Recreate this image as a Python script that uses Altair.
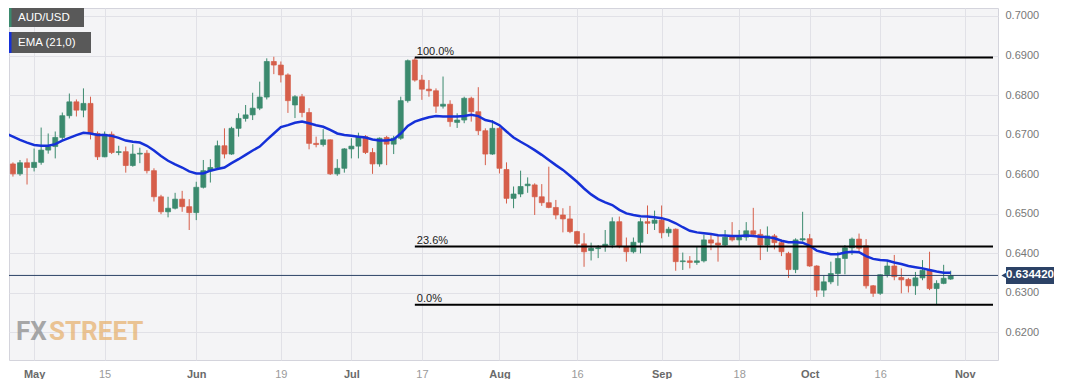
import altair as alt
import pandas as pd

# ---------------- data ----------------
# trading-day index: 0 = 1 May 2023 (weekdays only)
idx = list(range(-4, 131))

opens = [0.6695,0.6626,0.6601,0.6629,0.6617,0.6630,0.6661,0.6670,0.6693,0.6748,
         0.6783,0.6762,0.6779,0.6703,0.6644,0.6701,0.6655,0.6657,0.6622,0.6651,
         0.6653,0.6609,0.6543,0.6505,0.6514,0.6537,0.6518,0.6503,0.6567,0.6609,
         0.6617,0.6672,0.6651,0.6716,0.6741,0.6750,0.6767,0.6795,0.6885,0.6876,
         0.6851,0.6775,0.6796,0.6756,0.6678,0.6675,0.6687,0.6601,0.6615,0.6664,
         0.6671,0.6695,0.6655,0.6626,0.6693,0.6676,0.6691,0.6786,0.6889,0.6838,
         0.6815,0.6811,0.6772,0.6777,0.6731,0.6737,0.6792,0.6758,0.6710,0.6651,
         0.6716,0.6612,0.6539,0.6550,0.6571,0.6573,0.6543,0.6528,0.6516,0.6497,
         0.6487,0.6455,0.6424,0.6407,0.6412,0.6417,0.6421,0.6480,0.6417,0.6404,
         0.6428,0.6480,0.6476,0.6484,0.6452,0.6461,0.6379,0.6381,0.6377,0.6381,
         0.6434,0.6426,0.6421,0.6444,0.6434,0.6441,0.6457,0.6448,0.6421,0.6444,
         0.6427,0.6400,0.6359,0.6434,0.6437,0.6368,0.6307,0.6328,0.6349,0.6387,
         0.6414,0.6436,0.6419,0.6318,0.6299,0.6346,0.6368,0.6339,0.6334,0.6318,
         0.6338,0.6357,0.6311,0.6324,0.6335]
highs = [0.6710,0.6630,0.6636,0.6640,0.6665,0.6718,0.6703,0.6708,0.6756,0.6804,
         0.6789,0.6817,0.6796,0.6708,0.6708,0.6708,0.6672,0.6670,0.6676,0.6667,
         0.6661,0.6615,0.6548,0.6543,0.6553,0.6558,0.6537,0.6581,0.6636,0.6638,
         0.6685,0.6716,0.6720,0.6754,0.6775,0.6806,0.6834,0.6893,0.6897,0.6885,
         0.6855,0.6800,0.6803,0.6767,0.6695,0.6714,0.6688,0.6638,0.6666,0.6691,
         0.6705,0.6699,0.6666,0.6693,0.6697,0.6697,0.6796,0.6890,0.6895,0.6851,
         0.6838,0.6817,0.6847,0.6787,0.6754,0.6796,0.6796,0.6820,0.6716,0.6737,
         0.6720,0.6630,0.6569,0.6609,0.6592,0.6577,0.6575,0.6619,0.6535,0.6514,
         0.6520,0.6457,0.6451,0.6427,0.6421,0.6459,0.6491,0.6493,0.6440,0.6440,
         0.6489,0.6521,0.6508,0.6521,0.6467,0.6463,0.6402,0.6393,0.6417,0.6447,
         0.6447,0.6447,0.6459,0.6479,0.6459,0.6479,0.6515,0.6461,0.6468,0.6449,
         0.6435,0.6404,0.6438,0.6505,0.6449,0.6370,0.6345,0.6379,0.6404,0.6421,
         0.6440,0.6450,0.6436,0.6320,0.6347,0.6383,0.6396,0.6362,0.6338,0.6353,
         0.6383,0.6404,0.6332,0.6371,0.6356]
lows = [0.6615,0.6594,0.6596,0.6574,0.6607,0.6624,0.6652,0.6640,0.6687,0.6741,
        0.6746,0.6744,0.6688,0.6636,0.6643,0.6651,0.6648,0.6604,0.6619,0.6628,
        0.6602,0.6531,0.6499,0.6491,0.6511,0.6505,0.6459,0.6484,0.6564,0.6579,
        0.6615,0.6640,0.6649,0.6695,0.6733,0.6737,0.6762,0.6789,0.6853,0.6832,
        0.6755,0.6742,0.6744,0.6663,0.6668,0.6670,0.6598,0.6596,0.6604,0.6640,
        0.6640,0.6651,0.6601,0.6619,0.6623,0.6651,0.6687,0.6781,0.6834,0.6788,
        0.6796,0.6755,0.6766,0.6720,0.6717,0.6729,0.6733,0.6699,0.6623,0.6649,
        0.6602,0.6526,0.6514,0.6542,0.6553,0.6497,0.6520,0.6514,0.6486,0.6453,
        0.6451,0.6415,0.6366,0.6382,0.6388,0.6404,0.6413,0.6413,0.6379,0.6400,
        0.6400,0.6449,0.6459,0.6438,0.6442,0.6356,0.6358,0.6362,0.6371,0.6377,
        0.6408,0.6379,0.6417,0.6430,0.6419,0.6432,0.6444,0.6383,0.6404,0.6410,
        0.6393,0.6338,0.6350,0.6430,0.6366,0.6290,0.6290,0.6322,0.6318,0.6347,
        0.6396,0.6405,0.6311,0.6290,0.6295,0.6339,0.6332,0.6299,0.6301,0.6295,
        0.6332,0.6307,0.6270,0.6322,0.6333]
closes = [0.6623,0.6601,0.6629,0.6617,0.6630,0.6661,0.6670,0.6693,0.6748,0.6783,
          0.6762,0.6779,0.6703,0.6644,0.6701,0.6655,0.6657,0.6622,0.6651,0.6653,
          0.6609,0.6543,0.6505,0.6514,0.6537,0.6518,0.6503,0.6567,0.6609,0.6617,
          0.6672,0.6651,0.6716,0.6741,0.6750,0.6767,0.6795,0.6885,0.6876,0.6851,
          0.6786,0.6796,0.6756,0.6678,0.6675,0.6687,0.6601,0.6615,0.6664,0.6671,
          0.6695,0.6655,0.6626,0.6691,0.6676,0.6691,0.6786,0.6887,0.6838,0.6815,
          0.6811,0.6772,0.6777,0.6733,0.6737,0.6792,0.6758,0.6710,0.6651,0.6716,
          0.6615,0.6539,0.6550,0.6569,0.6575,0.6543,0.6528,0.6516,0.6497,0.6487,
          0.6455,0.6425,0.6404,0.6413,0.6414,0.6423,0.6480,0.6417,0.6404,0.6428,
          0.6480,0.6476,0.6484,0.6452,0.6461,0.6379,0.6381,0.6377,0.6381,0.6434,
          0.6426,0.6421,0.6441,0.6434,0.6441,0.6457,0.6448,0.6421,0.6444,0.6427,
          0.6404,0.6359,0.6434,0.6437,0.6368,0.6307,0.6328,0.6349,0.6387,0.6414,
          0.6436,0.6413,0.6318,0.6299,0.6346,0.6368,0.6341,0.6333,0.6318,0.6338,
          0.6357,0.6311,0.6324,0.6337,0.6344]
ema = [0.6703,0.6695,0.6687,0.6680,0.6674,0.6672,0.6672,0.6676,0.6685,0.6692,
       0.6699,0.6705,0.6703,0.6699,0.6699,0.6697,0.6692,0.6685,0.6682,0.6680,
       0.6672,0.6660,0.6646,0.6634,0.6625,0.6617,0.6607,0.6602,0.6602,0.6609,
       0.6613,0.6617,0.6628,0.6638,0.6649,0.6660,0.6670,0.6687,0.6703,0.6719,
       0.6724,0.6730,0.6733,0.6729,0.6724,0.6720,0.6712,0.6703,0.6699,0.6697,
       0.6695,0.6693,0.6688,0.6685,0.6685,0.6688,0.6703,0.6722,0.6733,0.6739,
       0.6744,0.6747,0.6746,0.6746,0.6746,0.6747,0.6750,0.6747,0.6737,0.6733,
       0.6724,0.6708,0.6693,0.6682,0.6672,0.6661,0.6649,0.6636,0.6623,0.6611,
       0.6596,0.6581,0.6564,0.6549,0.6537,0.6529,0.6522,0.6510,0.6501,0.6497,
       0.6494,0.6493,0.6491,0.6489,0.6484,0.6476,0.6466,0.6457,0.6453,0.6451,
       0.6449,0.6446,0.6445,0.6444,0.6444,0.6445,0.6444,0.6442,0.6441,0.6438,
       0.6432,0.6428,0.6428,0.6427,0.6419,0.6407,0.6402,0.6398,0.6398,0.6402,
       0.6404,0.6403,0.6393,0.6386,0.6383,0.6382,0.6377,0.6373,0.6368,0.6365,
       0.6362,0.6358,0.6354,0.6351,0.6351]

tick_pos = [0, 10, 23, 35, 45, 55, 66, 77, 89, 100, 110, 120, 132]
tick_lab = ["May", "15", "Jun", "19", "Jul", "17", "Aug", "16", "Sep", "18", "Oct", "16", "Nov"]
month_pos = [0, 23, 45, 66, 89, 110, 132]
y_ticks = [0.62, 0.63, 0.64, 0.65, 0.66, 0.67, 0.68, 0.69, 0.70]

fib_labels = ["100.0%", "23.6%", "0.0%"]
fib_prices = [0.6895, 0.6417, 0.6270]
fib_start = [54, 54, 54]
fib_end = [136, 136, 136]

last_price = [0.634420]
last_label = ["0.634420"]

# ---------------- styling ----------------
GREEN = "#3b8a6e"
RED = "#d65e4a"
BLUE = "#1530d8"
NAVY = "#2c4266"
FONT = "Liberation Sans"

df = pd.DataFrame({"i": idx, "o": opens, "h": highs, "l": lows, "c": closes, "ema": ema})
df["dir"] = ["up" if c >= o else "down" for o, c in zip(opens, closes)]

label_expr = " : ".join(
    f"datum.value == {p} ? '{l}'" for p, l in zip(tick_pos, tick_lab)
) + " : ''"
month_test = "indexof([" + ",".join(str(m) for m in month_pos) + "], datum.value) >= 0"

xscale = alt.Scale(domain=[-2.85, 136.0], nice=False, zero=False)
yscale = alt.Scale(domain=[0.61304, 0.70202], nice=False, zero=False)

xaxis = alt.Axis(
    values=tick_pos, labelExpr=label_expr, title=None, ticks=False, domain=False,
    grid=True, gridColor="#e1e1e7", labelFont=FONT, labelFontSize=11,
    labelPadding=8,
    labelFontWeight={"condition": {"test": month_test, "value": "bold"}, "value": "normal"},
    labelColor={"condition": {"test": month_test, "value": "#6a6a6a"}, "value": "#9a9a9a"},
)
yaxis = alt.Axis(
    orient="right", values=y_ticks, format=".4f", title=None, ticks=False, domain=False,
    grid=True, gridColor="#e1e1e7", labelFont=FONT, labelFontSize=11,
    labelColor="#777777", labelPadding=7,
)


def X(field):
    return alt.X(field, type="quantitative", scale=xscale, axis=xaxis, title=None)


def Y(field):
    return alt.Y(field, type="quantitative", scale=yscale, axis=yaxis, title=None)


color = alt.Color("dir:N", scale=alt.Scale(domain=["up", "down"], range=[GREEN, RED]), legend=None)
stroke = alt.Stroke("dir:N", scale=alt.Scale(domain=["up", "down"], range=[GREEN, RED]), legend=None)

base = alt.Chart(df)

wicks = base.mark_rule(strokeWidth=1, clip=True).encode(
    x=X("i"), y=Y("l"), y2="h:Q", color=color,
)
bodies = base.mark_bar(width=5, strokeWidth=0.7, clip=True).encode(
    x=X("i"), y=Y("o"), y2="c:Q", color=color, stroke=stroke,
)
ema_line = base.mark_line(color=BLUE, strokeWidth=2.5, clip=True).encode(
    x=X("i"), y=Y("ema"),
)

price_df = pd.DataFrame({"p": last_price, "lab": last_label})
price_rule = alt.Chart(price_df).mark_rule(color=NAVY, strokeWidth=1).encode(y=Y("p"))
price_box = alt.Chart(price_df).mark_tick(color=NAVY, size=48, thickness=17, opacity=1).encode(
    x=alt.value(1021), y=Y("p")
)
price_arrow = alt.Chart(price_df).mark_point(
    shape="triangle-left", filled=True, color=NAVY, size=70, opacity=1
).encode(x=alt.value(996), y=Y("p"))
price_text = alt.Chart(price_df).mark_text(
    color="white", fontWeight="bold", fontSize=11.5, font=FONT, align="center", baseline="middle"
).encode(x=alt.value(1021), y=Y("p"), text="lab:N")

fib_df = pd.DataFrame({"lab": fib_labels, "p": fib_prices, "s": fib_start, "e": fib_end})
fib_rules = alt.Chart(fib_df).mark_rule(color="#000000", strokeWidth=2).encode(
    x=X("s"), x2="e:Q", y=Y("p"),
)
fib_text = alt.Chart(fib_df).mark_text(
    align="left", baseline="bottom", dx=2, dy=-1, fontSize=11, font=FONT, color="#222222"
).encode(x=X("s"), y=Y("p"), text="lab:N")

one = pd.DataFrame({"k": [0]})


def box(x1, x2, y1, y2, fill):
    return alt.Chart(one).mark_rect(color=fill, opacity=1).encode(
        x=alt.value(x1), x2=alt.value(x2), y=alt.value(y1), y2=alt.value(y2)
    )


def label(x, y, txt, size, col, weight="normal", align="left", baseline="middle", opacity=1.0, font=FONT):
    return alt.Chart(one).mark_text(
        text=txt, fontSize=size, color=col, fontWeight=weight, align=align,
        baseline=baseline, font=font, opacity=opacity
    ).encode(x=alt.value(x), y=alt.value(y))


legend_layers = [
    box(0, 75, 0, 19, "#595959"), box(0, 2.5, 0, 19, GREEN),
    label(9, 10, "AUD/USD", 11.5, "white"),
    box(0, 82, 24, 45, "#595959"), box(0, 2.5, 24, 45, BLUE),
    label(9, 35, "EMA (21,0)", 11.5, "white"),
]
wm_font = "Roboto"
watermark = [
    label(7, 332, "FX", 26, "#8d8d8d", weight="bold", baseline="alphabetic", opacity=0.75, font=wm_font),
    label(40, 332, "STREET", 26, "#e7b373", weight="bold", baseline="alphabetic", opacity=0.75, font=wm_font),
]

chart = alt.layer(
    wicks, bodies, ema_line, price_rule, fib_rules, fib_text,
    *watermark, *legend_layers, price_box, price_arrow, price_text,
).properties(
    width=989, height=352, padding=0, background="white"
).configure_view(
    fill="#f4f4f6", stroke="#d4d4dc", strokeWidth=1
)

chart.save("out.html", embed_options={"renderer": "svg", "actions": False})
